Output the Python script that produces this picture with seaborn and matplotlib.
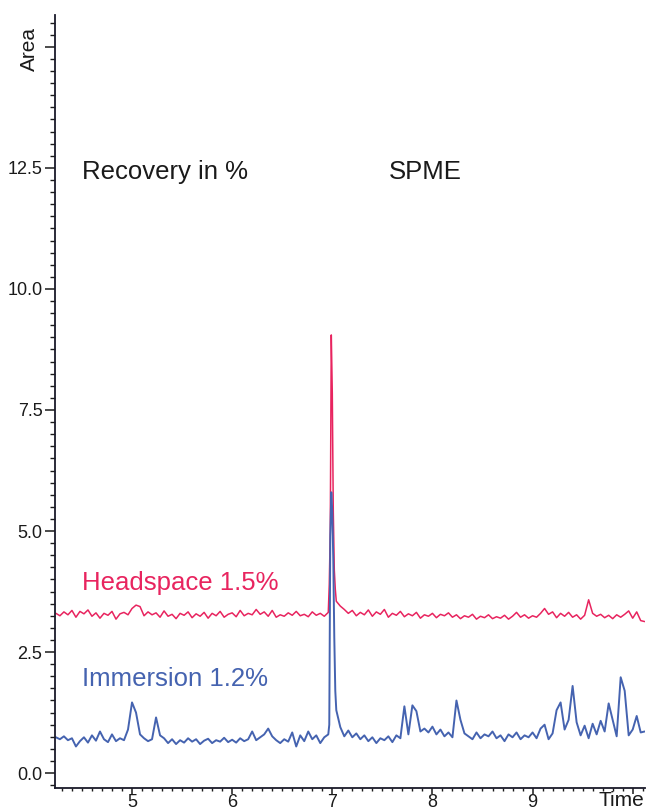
import numpy as np
import pandas as pd
import matplotlib
matplotlib.use("Agg")
import matplotlib.pyplot as plt
import seaborn as sns
from matplotlib.ticker import MultipleLocator, FixedLocator, FixedFormatter

sns.set_style("ticks")
plt.rcParams['font.family'] = ['Liberation Sans', 'DejaVu Sans']

# Chromatogram sampling grid (min) and the extra samples across the main peak
time_grid = np.round(np.arange(4.24, 10.121, 0.04), 2)
peak_time = [6.97, 6.98, 6.99, 7.01, 7.02, 7.03]

headspace_grid = [
    3.30, 3.25, 3.33, 3.27, 3.36, 3.22, 3.34, 3.29, 3.37, 3.24,
    3.31, 3.20, 3.30, 3.26, 3.34, 3.18, 3.29, 3.32, 3.27, 3.40,
    3.47, 3.44, 3.25, 3.33, 3.27, 3.31, 3.22, 3.35, 3.24, 3.28,
    3.19, 3.30, 3.26, 3.33, 3.21, 3.29, 3.24, 3.32, 3.20, 3.30,
    3.25, 3.34, 3.22, 3.28, 3.31, 3.23, 3.36, 3.25, 3.30, 3.27,
    3.38, 3.28, 3.33, 3.24, 3.36, 3.22, 3.27, 3.24, 3.31, 3.26,
    3.34, 3.25, 3.28, 3.23, 3.33, 3.26, 3.30, 3.24, 3.32,
    7.85,
    3.55, 3.45, 3.38, 3.30, 3.36, 3.25, 3.32, 3.27, 3.37, 3.24,
    3.33, 3.28, 3.38, 3.22, 3.30, 3.26, 3.34, 3.23, 3.29, 3.25,
    3.32, 3.20, 3.27, 3.24, 3.30, 3.21, 3.28, 3.25, 3.31, 3.22,
    3.27, 3.19, 3.25, 3.22, 3.28, 3.18, 3.24, 3.21, 3.27, 3.19,
    3.23, 3.20, 3.26, 3.18, 3.24, 3.32, 3.22, 3.27, 3.20, 3.25,
    3.22, 3.30, 3.40, 3.28, 3.33, 3.21, 3.30, 3.24, 3.32, 3.22,
    3.27, 3.18, 3.26, 3.58, 3.30, 3.24, 3.28, 3.21, 3.26, 3.19,
    3.27, 3.22, 3.28, 3.35, 3.20, 3.33, 3.15, 3.13,
]
headspace_peak = [3.90, 5.00, 9.05, 5.40, 4.20, 3.80]

immersion_grid = [
    0.74, 0.70, 0.76, 0.68, 0.72, 0.55, 0.66, 0.74, 0.63, 0.78,
    0.67, 0.86, 0.70, 0.64, 0.80, 0.66, 0.72, 0.68, 0.90, 1.46,
    1.25, 0.80, 0.72, 0.66, 0.70, 1.15, 0.78, 0.72, 0.62, 0.70,
    0.60, 0.68, 0.63, 0.72, 0.65, 0.70, 0.60, 0.67, 0.71, 0.62,
    0.68, 0.65, 0.73, 0.64, 0.69, 0.63, 0.72, 0.66, 0.70, 0.86,
    0.68, 0.74, 0.80, 0.92, 0.76, 0.68, 0.62, 0.70, 0.65, 0.84,
    0.55, 0.78, 0.66, 0.86, 0.70, 0.78, 0.62, 0.74, 0.80,
    5.40,
    1.30, 0.95, 0.76, 0.88, 0.74, 0.82, 0.70, 0.78, 0.66, 0.74,
    0.62, 0.72, 0.68, 0.76, 0.64, 0.78, 0.72, 1.38, 0.80, 1.40,
    1.28, 0.86, 0.92, 0.84, 0.96, 0.80, 0.90, 0.76, 0.84, 0.74,
    1.50, 1.10, 0.82, 0.76, 0.70, 0.84, 0.72, 0.80, 0.76, 0.86,
    0.72, 0.78, 0.66, 0.80, 0.74, 0.84, 0.70, 0.78, 0.74, 0.84,
    0.72, 0.92, 1.00, 0.70, 0.82, 1.30, 1.46, 0.90, 1.10, 1.80,
    1.05, 0.78, 0.98, 0.72, 1.02, 0.80, 1.08, 0.86, 1.44, 1.10,
    0.76, 1.98, 1.70, 0.78, 0.90, 1.18, 0.84, 0.86,
]
immersion_peak = [1.00, 4.90, 5.80, 4.40, 2.80, 1.70]

y_ticks = [0.0, 2.5, 5.0, 7.5, 10.0, 12.5, 15.0]
y_tick_labels = ["0.0", "2.5", "5.0", "7.5", "10.0", "12.5", ""]
x_ticks = [5, 6, 7, 8, 9, 10]
x_tick_labels = ["5", "6", "7", "8", "9", ""]

HEAD_COLOR = "#E8245F"
IMM_COLOR = "#4563B0"


def trace(name, grid_vals, peak_vals):
    t = np.concatenate([time_grid, peak_time])
    a = np.concatenate([grid_vals, peak_vals])
    order = np.argsort(t)
    return pd.DataFrame({"Time": t[order], "Area": a[order], "Method": name})


head_df = trace("Headspace", headspace_grid, headspace_peak)
imm_df = trace("Immersion", immersion_grid, immersion_peak)

fig = plt.figure(figsize=(6.46, 8.10), dpi=100)
ax = fig.add_axes([0.085, 0.027, 0.913, 0.954])

sns.lineplot(data=head_df, x="Time", y="Area", color=HEAD_COLOR, lw=1.1,
             estimator=None, sort=False, ax=ax, legend=False)
sns.lineplot(data=imm_df, x="Time", y="Area", color=IMM_COLOR, lw=1.4,
             estimator=None, sort=False, ax=ax, legend=False)

ax.set_xlim(4.23, 10.12)
ax.set_ylim(-0.31, 15.65)

ax.yaxis.set_major_locator(FixedLocator(y_ticks))
ax.yaxis.set_major_formatter(FixedFormatter(y_tick_labels))
ax.yaxis.set_minor_locator(MultipleLocator(0.25))
ax.xaxis.set_major_locator(FixedLocator(x_ticks))
ax.xaxis.set_major_formatter(FixedFormatter(x_tick_labels))
ax.xaxis.set_minor_locator(MultipleLocator(0.1))

ax.tick_params(axis="y", which="major", direction="out", length=7,
               width=1.1, labelsize=13, colors="#1a1a1a", pad=2)
ax.tick_params(axis="y", which="minor", direction="out", length=3.5,
               width=1.0, colors="#1a1a1a")
ax.tick_params(axis="x", which="major", direction="out", length=4,
               width=1.1, labelsize=13, colors="#1a1a1a", pad=0.5)
ax.tick_params(axis="x", which="minor", direction="out", length=2.5,
               width=1.0, colors="#1a1a1a")

for side in ("top", "right"):
    ax.spines[side].set_visible(False)
for side in ("left", "bottom"):
    ax.spines[side].set_linewidth(1.3)
    ax.spines[side].set_color("#1a1a2a")

ax.set_xlabel("")
ax.set_ylabel("")

fig.text(0.046, 0.94, "Area", rotation=90, fontsize=15, ha="center",
         va="center", color="#1a1a1a")
fig.text(0.998, 0.0005, "Time", fontsize=15, ha="right", va="bottom",
         color="#1a1a1a")

ax.text(4.50, 12.41, "Recovery in %", fontsize=18.5, ha="left",
        va="center", color="#1a1a1a")
ax.text(7.56, 12.41, "SPME", fontsize=18.5, ha="left", va="center",
        color="#1a1a1a")
ax.text(4.50, 3.92, "Headspace 1.5%", fontsize=18.5, ha="left",
        va="center", color=HEAD_COLOR)
ax.text(4.50, 1.94, "Immersion 1.2%", fontsize=18.5, ha="left",
        va="center", color=IMM_COLOR)

fig.savefig("out.png", dpi=100)
